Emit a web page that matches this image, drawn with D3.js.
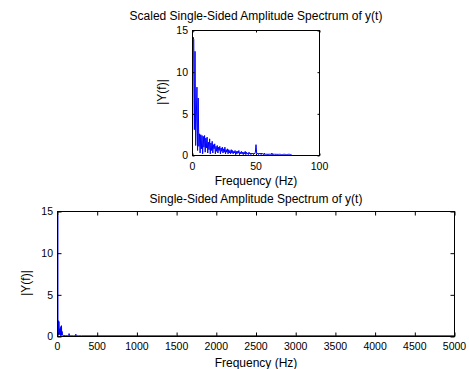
<!DOCTYPE html>
<html>
<head>
<meta charset="utf-8">
<script src="https://cdn.jsdelivr.net/npm/d3@7"></script>
<style>
  html, body { margin: 0; padding: 0; background: #fff; }
  svg { display: block; }
  text { font-family: "Liberation Sans", Arial, sans-serif; fill: #000; }
</style>
</head>
<body>
<svg id="chart" width="469" height="369"></svg>
<script>
// ---------- data ----------
const topTitle = "Scaled Single-Sided Amplitude Spectrum of y(t)";
const bottomTitle = "Single-Sided Amplitude Spectrum of y(t)";
const xLabel = "Frequency (Hz)";
const yLabel = "|Y(f)|";

const topXTicks = [0, 50, 100];
const topYTicks = [0, 5, 10, 15];
const bottomXTicks = [0, 500, 1000, 1500, 2000, 2500, 3000, 3500, 4000, 4500, 5000];
const bottomYTicks = [0, 5, 10, 15];

// zoomed spectrum, sampled every 0.5 Hz from 0 Hz
const topStepHz = 0.5;
const topAmp = [
  2.1, 14.2, 13.9, 3.1, 12.5, 1.2, 4.5, 8.2, 0.6, 6.9,
  1.1, 2.6, 0.3, 2.5, 0.8, 2.4, 0.2, 2.3, 1.0, 2.4,
  0.4, 2.1, 0.9, 2.2, 0.3, 1.6, 0.7, 2.0, 0.2, 1.5,
  0.6, 1.7, 0.3, 1.3, 0.8, 1.4, 0.2, 1.1, 0.5, 1.2,
  0.3, 1.0, 0.6, 1.1, 0.2, 0.9, 0.5, 1.0, 0.3, 0.8,
  0.4, 1.0, 0.2, 0.7, 0.4, 0.8, 0.2, 0.7, 0.3, 0.6,
  0.2, 0.7, 0.3, 0.6, 0.2, 0.5, 0.3, 0.6, 0.1, 0.5,
  0.2, 0.5, 0.3, 0.6, 0.1, 0.4, 0.2, 0.5, 0.2, 0.4,
  0.1, 0.4, 0.2, 0.5, 0.1, 0.4, 0.2, 0.3, 0.1, 0.4,
  0.2, 0.3, 0.1, 0.3, 0.2, 0.3, 0.1, 0.3, 0.2, 0.4,
  1.3, 0.3, 0.2, 0.3, 0.1, 0.3, 0.2, 0.3, 0.1, 0.3,
  0.2, 0.2, 0.1, 0.3, 0.1, 0.2, 0.1, 0.2, 0.1, 0.2,
  0.1, 0.2, 0.1, 0.2, 0.1, 0.3, 0.1, 0.2, 0.1, 0.2,
  0.1, 0.15, 0.1, 0.2, 0.1, 0.15, 0.1, 0.15, 0.1, 0.15,
  0.1, 0.15, 0.1, 0.15, 0.1, 0.15, 0.1, 0.15, 0.1, 0.15,
  0.1, 0.15, 0.1, 0.15, 0.1, 0.15, 0.1
];

// full spectrum
const bottomFreq = [0, 3, 6, 10, 14, 18, 22, 26, 30, 34, 38, 42, 46, 50, 54, 58, 62, 70, 80, 100, 120, 140, 146, 152, 170, 200, 225, 231, 237, 260, 300, 500, 1000, 1500, 2000, 2500, 3000, 3500, 4000, 4500, 5000];
const bottomAmp  = [0.5, 14.5, 0.3, 1.9, 0.2, 1.8, 0.3, 0.9, 0.2, 1.0, 0.1, 1.2, 0.2, 1.3, 0.1, 0.6, 0.2, 0.15, 0.1, 0.1, 0.08, 0.08, 0.35, 0.08, 0.08, 0.08, 0.08, 0.28, 0.08, 0.08, 0.08, 0.08, 0.08, 0.08, 0.08, 0.08, 0.08, 0.08, 0.08, 0.08, 0.08];

// ---------- drawing ----------
const svg = d3.select("#chart");
const lineColor = "#0000ff";

function drawPanel(cfg) {
  const { left, right, top, bottom, xDomain, yDomain, xTicks, yTicks, tickLen,
          xs, ys, title, titleY, tickLabelY, xLabelY, yLabelX, yLabelCY } = cfg;
  const x = d3.scaleLinear().domain(xDomain).range([left, right]);
  const y = d3.scaleLinear().domain(yDomain).range([bottom, top]);
  const g = svg.append("g");

  const pts = xs.map((v, i) => [v, ys[i]]);
  g.append("path")
    .datum(pts)
    .attr("fill", "none")
    .attr("stroke", lineColor)
    .attr("stroke-width", 1)
    .attr("d", d3.line().x(d => x(d[0])).y(d => y(d[1])));

  // frame
  g.append("rect")
    .attr("x", left).attr("y", top)
    .attr("width", right - left).attr("height", bottom - top)
    .attr("fill", "none").attr("stroke", "#000").attr("stroke-width", 1);

  // x ticks (bottom & top, inward)
  const xa = d3.axisBottom(x).tickValues(xTicks).tickSize(-tickLen).tickPadding(4).tickFormat(d3.format("d"));
  const gx = g.append("g").attr("transform", `translate(0,${bottom})`).call(xa);
  gx.select(".domain").remove();
  gx.selectAll("text").remove();
  const gxt = g.append("g").attr("transform", `translate(0,${top})`).call(d3.axisTop(x).tickValues(xTicks).tickSize(-tickLen).tickFormat(""));
  gxt.select(".domain").remove();

  g.selectAll(".xtl").data(xTicks).enter().append("text")
    .attr("class", "xtl")
    .attr("x", d => x(d)).attr("y", tickLabelY)
    .attr("text-anchor", "middle").style("font-size", "10.5px")
    .text(d => d);

  // y ticks (left & right, inward)
  const gy = g.append("g").attr("transform", `translate(${left},0)`).call(d3.axisLeft(y).tickValues(yTicks).tickSize(-tickLen).tickFormat(""));
  gy.select(".domain").remove();
  const gyr = g.append("g").attr("transform", `translate(${right},0)`).call(d3.axisRight(y).tickValues(yTicks).tickSize(-tickLen).tickFormat(""));
  gyr.select(".domain").remove();

  g.selectAll(".ytl").data(yTicks).enter().append("text")
    .attr("class", "ytl")
    .attr("x", left - 4.5).attr("y", d => y(d)).attr("dy", "0.36em")
    .attr("text-anchor", "end").style("font-size", "10.5px")
    .text(d => d);

  g.selectAll(".tick line").attr("stroke", "#000");

  g.append("text").attr("x", (left + right) / 2).attr("y", titleY)
    .attr("text-anchor", "middle").style("font-size", "12px").text(title);
  g.append("text").attr("x", (left + right) / 2).attr("y", xLabelY)
    .attr("text-anchor", "middle").style("font-size", "12px").text(xLabel);
  g.append("text")
    .attr("transform", `translate(${yLabelX},${yLabelCY}) rotate(-90)`)
    .attr("text-anchor", "middle").style("font-size", "12px").text(yLabel);
}

drawPanel({
  left: 192.5, right: 319.5, top: 30.5, bottom: 155.5,
  xDomain: [0, 100], yDomain: [0, 15],
  xTicks: topXTicks, yTicks: topYTicks, tickLen: 2,
  xs: topAmp.map((_, i) => i * topStepHz), ys: topAmp,
  title: topTitle, titleY: 19.5, tickLabelY: 169.5, xLabelY: 185, yLabelX: 166, yLabelCY: 92
});

drawPanel({
  left: 57.5, right: 454.5, top: 211.5, bottom: 336.5,
  xDomain: [0, 5000], yDomain: [0, 15],
  xTicks: bottomXTicks, yTicks: bottomYTicks, tickLen: 4,
  xs: bottomFreq, ys: bottomAmp,
  title: bottomTitle, titleY: 203, tickLabelY: 350, xLabelY: 366.5, yLabelX: 30, yLabelCY: 283
});
</script>
</body>
</html>
